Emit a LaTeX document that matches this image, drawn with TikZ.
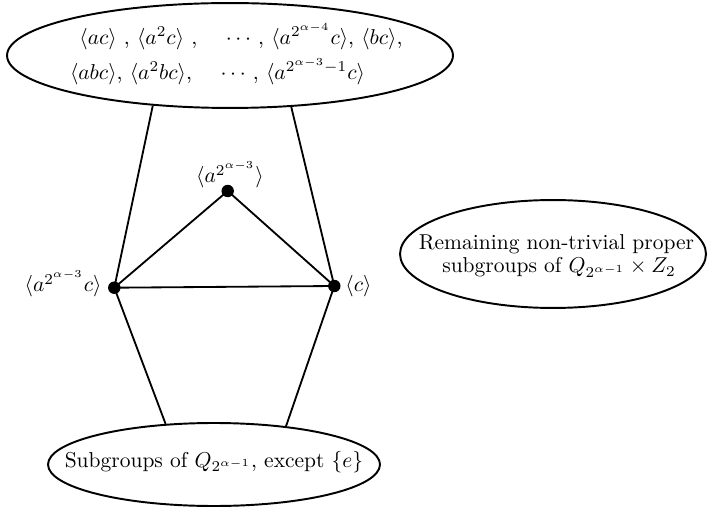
\documentclass[tikz,border=0pt]{standalone}
\usetikzlibrary{shapes.geometric}
\begin{document}
\begin{tikzpicture}[x=0.4651pt,y=-0.4651pt,
  ell/.style={draw,ellipse,line width=0.9pt,inner sep=0pt},
  dotnode/.style={circle,fill,inner sep=0pt,minimum size=5.8pt},
  txt/.style={inner sep=0pt,anchor=base},
  conn/.style={line width=0.85pt}]
\useasboundingbox (0,0) rectangle (708,509);
% ellipses
\node[ell,minimum width=207.4pt,minimum height=48.8pt] (top) at (230,55.5) {};
\node[ell,minimum width=142.3pt,minimum height=50.2pt] (rem) at (553,254) {};
\node[ell,minimum width=154.4pt,minimum height=38.6pt] (bot) at (214,464.5) {};
% texts in ellipses
\node[txt] (row1) at (241,44.6) {$\langle ac\rangle$ , $\langle a^2c\rangle$ , \quad $\cdots$ , $\langle a^{2^{\alpha-4}}c\rangle$, $\langle bc\rangle$,};
\node[txt] (row2) at (217.5,79.6) {$\langle abc\rangle$, $\langle a^2bc\rangle$, \quad $\cdots$ , $\langle a^{2^{\alpha-3}-1}c\rangle$};
\node[txt] (rem1) at (556.5,250) {Remaining non-trivial proper};
\node[txt] (rem2) at (559,273) {subgroups of $Q_{2^{\alpha-1}}\times Z_2$};
\node[txt] (bottxt) at (214,467) {Subgroups of $Q_{2^{\alpha-1}}$, except $\{e\}$};
% dots
\node[dotnode] (t) at (227.7,191) {};
\node[dotnode] (l) at (114.3,287.7) {};
\node[dotnode] (r) at (334.3,286) {};
\node[txt] (tlab) at (230,183) {$\langle a^{2^{\alpha-3}}\rangle$};
\node[txt,anchor=base east] (llab) at (102,292) {$\langle a^{2^{\alpha-3}}c\rangle$};
\node[txt,anchor=base west] (rlab) at (345,292) {$\langle c\rangle$};
% connectors
\draw[conn] (top.213.8) -- (l.center);
\draw[conn] (top.320.1) -- (r.center);
\draw[conn] (l.center) -- (bot.140.5);
\draw[conn] (r.center) -- (bot.28.75);
\draw[conn] (t.center) -- (l.center);
\draw[conn] (t.center) -- (r.center);
\draw[conn] (l.center) -- (r.center);
\end{tikzpicture}
\end{document}
